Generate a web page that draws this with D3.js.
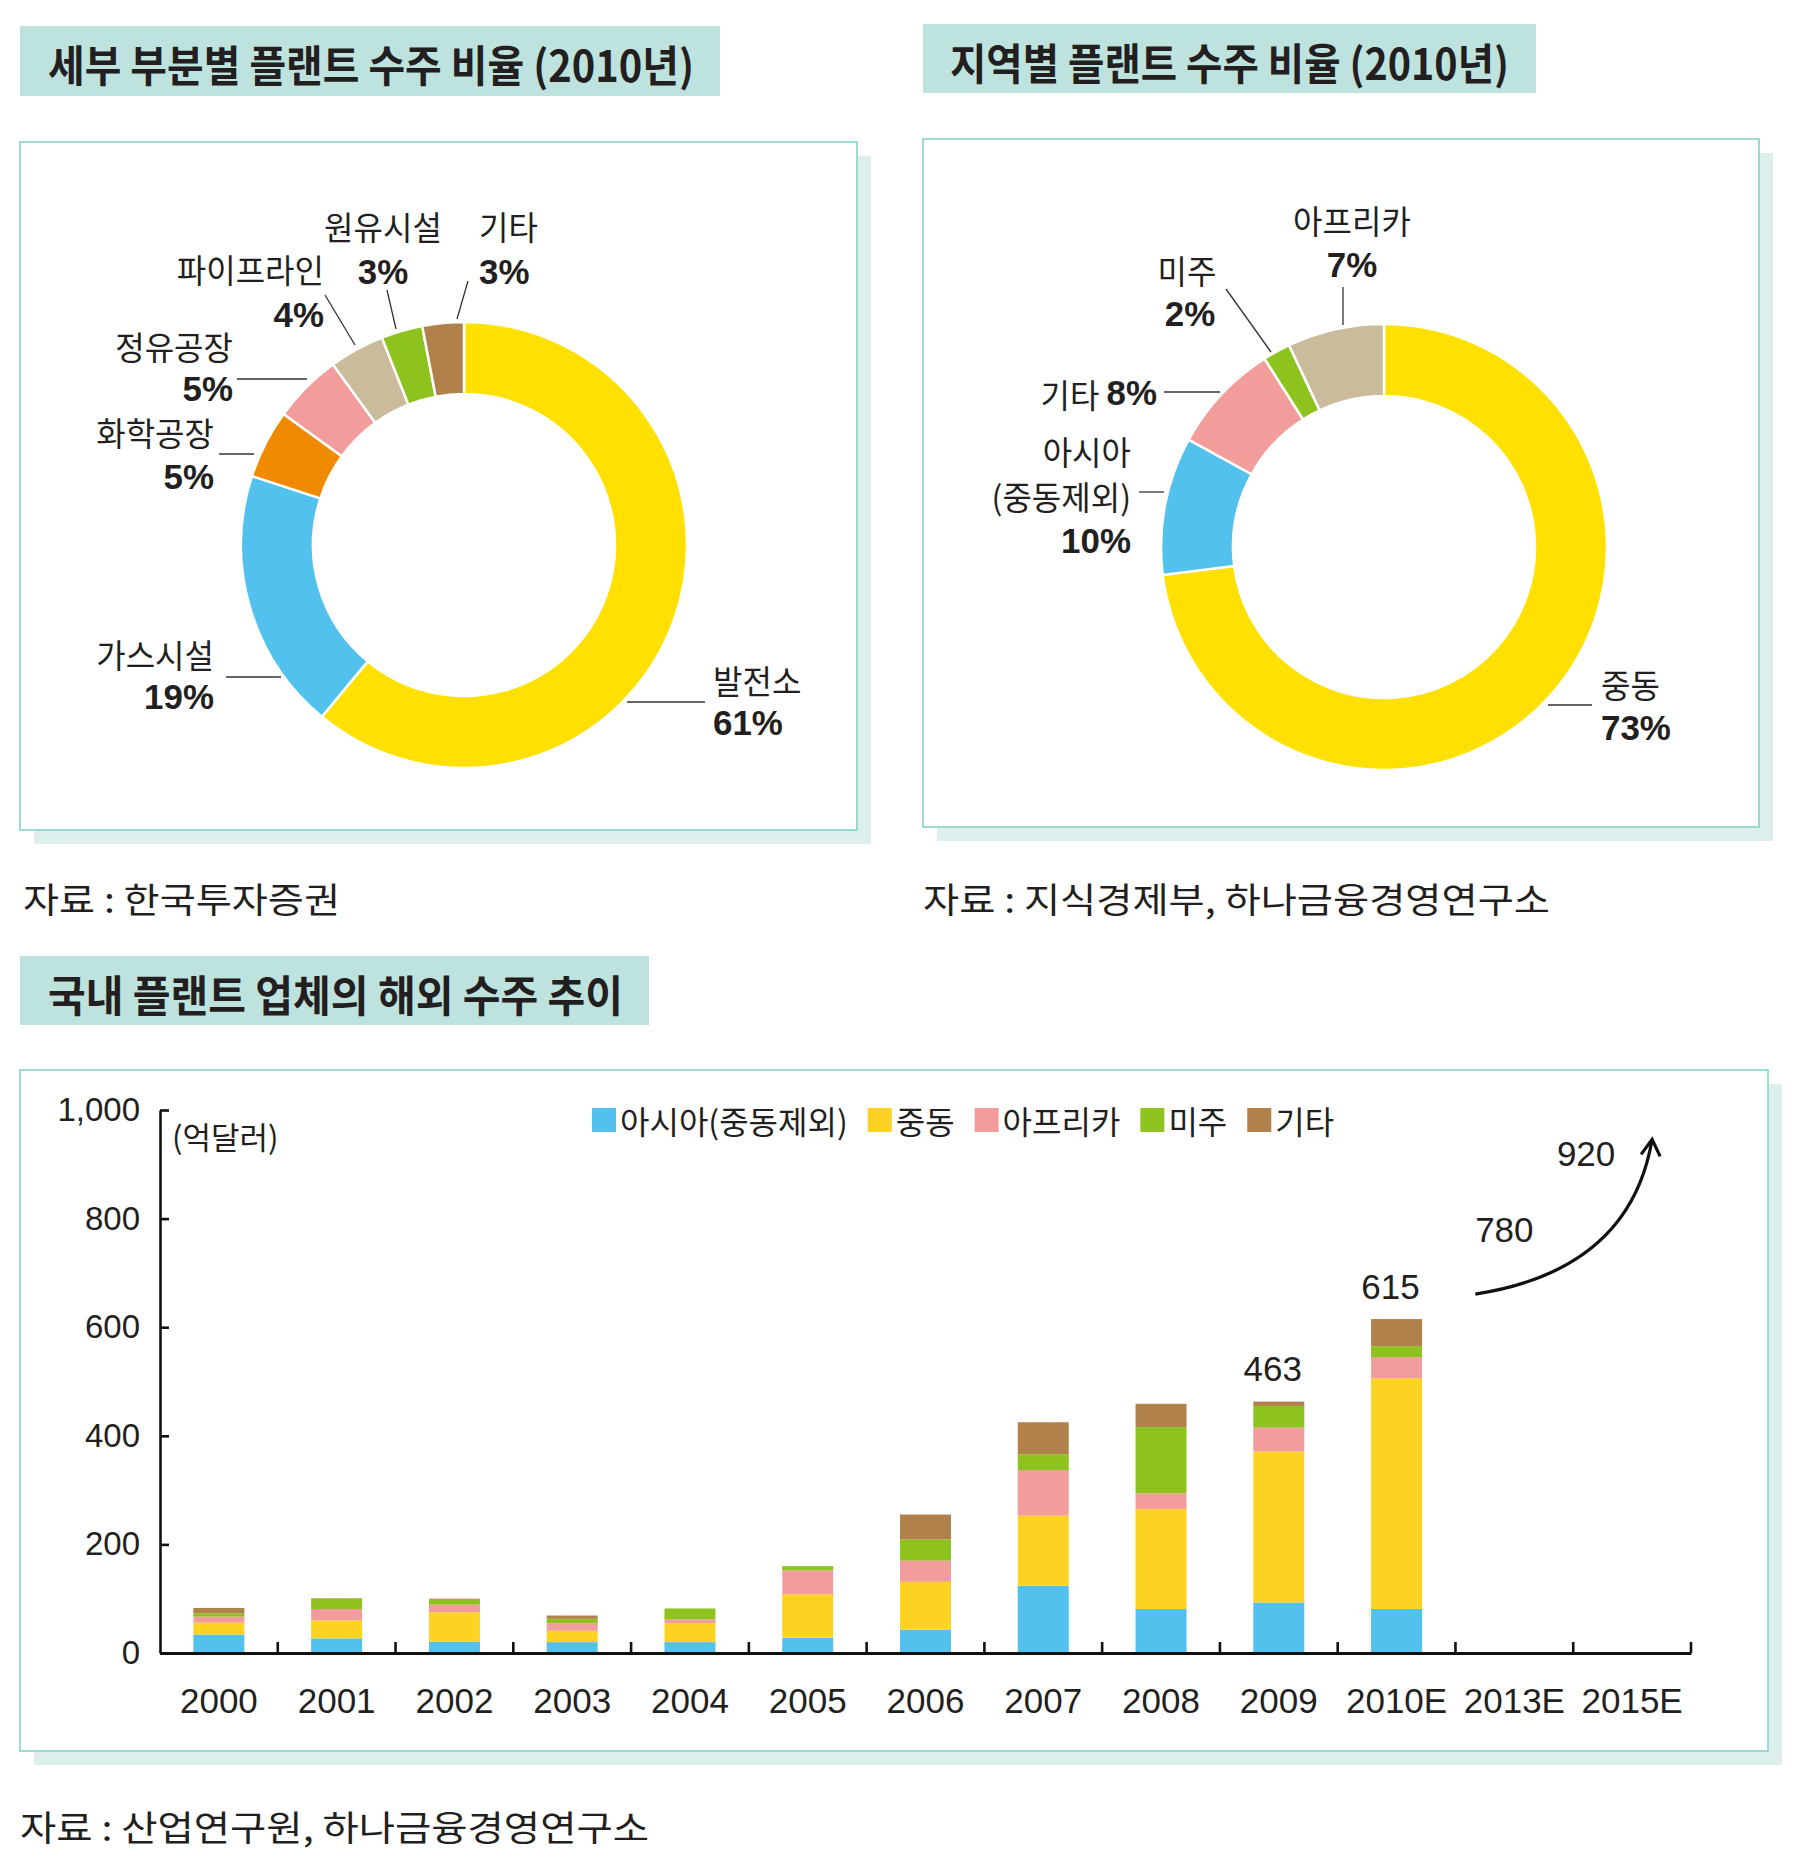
<!DOCTYPE html>
<html><head><meta charset="utf-8">
<script src="https://cdn.jsdelivr.net/npm/d3@7"></script>
<style>body{margin:0;background:#fff}svg{display:block}</style>
</head><body>
<svg id="c" width="1801" height="1867"></svg>
<script>
// ---------- DATA ----------
const sectorLabels = ["발전소","가스시설","화학공장","정유공장","파이프라인","원유시설","기타"];
const sectorShares = [61,19,5,5,4,3,3];
const regionLabels = ["중동","아시아(중동제외)","기타","미주","아프리카"];
const regionShares = [73,10,8,2,7];

const years = ["2000","2001","2002","2003","2004","2005","2006","2007","2008","2009","2010E","2013E","2015E"];
const seriesNames = ["아시아(중동제외)","중동","아프리카","미주","기타"];
const asia       = [34,27,21,20,20,28,43,124,81,93,81,null,null];
const middleEast = [22,33,54,21,35,80,88,129,184,278,425,null,null];
const africa     = [11,21,14,14,7,44,39,84,29,44,39,null,null];
const americas   = [6,19,9,8,20,8,39,29,122,40,20,null,null];
const others     = [10,1,2,6,0,0,46,59,43,8,50,null,null];
const totalLabelYears = ["2009","2010E"];
const forecastYears = ["2013E","2015E"];
const forecastValues = [780,920];
const yTicks = [0,200,400,600,800,1000];

const titles = ["세부 부분별 플랜트 수주 비율 (2010년)","지역별 플랜트 수주 비율 (2010년)","국내 플랜트 업체의 해외 수주 추이"];
const sources = ["자료 : 한국투자증권","자료 : 지식경제부, 하나금융경영연구소","자료 : 산업연구원, 하나금융경영연구소"];

// ---------- STYLE ----------
const KR = "'Noto Sans CJK KR','Noto Sans',sans-serif";
const NUM = "'Liberation Sans',Arial,sans-serif";
const INK = "#231F20";
const sectorColors = ["#FFE000","#52C1EE","#F08A00","#F29C9B","#C9BB9B","#8DC21F","#B1814B"];
const regionColors = ["#FFE000","#52C1EE","#F29C9B","#8DC21F","#C9BB9B"];
const barColors = ["#52C1EE","#FCD223","#F29C9B","#8DC21F","#B1814B"];

const svg = d3.select("#c");

// panels, shadows, title boxes
const panels = [[20,142,837,688],[923,139,836,688],[20,1070,1748,681]];
panels.forEach(p=>{
  svg.append("rect").attr("x",p[0]+14).attr("y",p[1]+14).attr("width",p[2]).attr("height",p[3]).attr("fill","#DDEFED");
  svg.append("rect").attr("x",p[0]).attr("y",p[1]).attr("width",p[2]).attr("height",p[3]).attr("fill","#fff").attr("stroke","#86D2C8").attr("stroke-width",1.6);
});
const titleBoxes = [[20,26,700,70,48,646],[923,24,613,69,950,559],[20,956,629,69,48,575]];
titleBoxes.forEach((b,i)=>{
  svg.append("rect").attr("x",b[0]).attr("y",b[1]).attr("width",b[2]).attr("height",b[3]).attr("fill","#BEE3DF");
  svg.append("text").attr("x",b[4]).attr("y",b[1]+b[3]/2+2).attr("dominant-baseline","central")
    .attr("font-family",KR).attr("font-weight",700).attr("font-size",43).attr("fill",INK)
    .attr("textLength",b[5]).attr("lengthAdjust","spacingAndGlyphs").text(titles[i]);
});
const sourcePos = [[23,897,317],[923,897,627],[20,1825,629]];
sourcePos.forEach((s,i)=>{
  svg.append("text").attr("x",s[0]).attr("y",s[1]).attr("dominant-baseline","central")
    .attr("font-family",KR).attr("font-size",35).attr("fill",INK)
    .attr("textLength",s[2]).attr("lengthAdjust","spacingAndGlyphs").text(sources[i]);
});

// helper for condensed text
function ctext(parent,x,y,str,opt){
  const g = parent.append("g").attr("transform",`translate(${x},${y}) scale(${opt.sx||1},1)`);
  return g.append("text").attr("x",0).attr("y",0).attr("dominant-baseline","central")
    .attr("text-anchor",opt.anchor||"start").attr("font-family",opt.family||KR)
    .attr("font-weight",opt.bold?700:400).attr("font-size",opt.size).attr("fill",INK).text(str);
}
function line(parent,x1,y1,x2,y2){
  parent.append("line").attr("x1",x1).attr("y1",y1).attr("x2",x2).attr("y2",y2)
    .attr("stroke","#333").attr("stroke-width",1.3);
}

// ---------- DONUTS ----------
function donut(cx,cy,values,colors){
  const pie = d3.pie().sort(null).value(d=>d);
  const arc = d3.arc().innerRadius(151).outerRadius(223);
  svg.append("g").attr("transform",`translate(${cx},${cy})`)
    .selectAll("path").data(pie(values)).join("path")
    .attr("d",arc).attr("fill",(d,i)=>colors[i]).attr("stroke","#fff").attr("stroke-width",2.5);
}
donut(464,545,sectorShares,sectorColors);
donut(1384,547,regionShares,regionColors);

const LBL = {size:33,sx:0.97};
const PCT = {size:36,sx:0.97,bold:true,family:NUM};
// donut 1 label layout: [anchor, x, yName, yPct, leader]
const d1Layout = [
  ["start",713,679,723,[627,702,705,702]],
  ["end",214,653,697,[226,677,281,677]],
  ["end",214,431,477,[219,454,254,454]],
  ["end",233,345,389,[237,379,307,379]],
  ["end",324,268,315,[325,295,355,345]],
  ["middle",383,225,272,[387,290,396,329]],
  ["start",479,225,272,[468,281,457,319]]
];
const dg1 = svg.append("g");
d1Layout.forEach((L,i)=>{
  ctext(dg1,L[1],L[2],sectorLabels[i],Object.assign({anchor:L[0]},LBL));
  ctext(dg1,L[1],L[3],sectorShares[i]+"%",Object.assign({anchor:L[0]},PCT));
  line(dg1,...L[4]);
});
// donut 2 labels
const dg2 = svg.append("g");
ctext(dg2,1601,683,regionLabels[0],Object.assign({anchor:"start"},LBL));
ctext(dg2,1601,728,regionShares[0]+"%",Object.assign({anchor:"start"},PCT));
line(dg2,1548,705,1592,705);
const asiaParts = regionLabels[1].replace("(", "|(").split("|");
ctext(dg2,1131,450,asiaParts[0],Object.assign({anchor:"end"},LBL));
ctext(dg2,1131,495,asiaParts[1],Object.assign({anchor:"end"},LBL));
ctext(dg2,1131,541,regionShares[1]+"%",Object.assign({anchor:"end"},PCT));
line(dg2,1139,492,1164,492);
{
  const t = ctext(dg2,1157,393,"",Object.assign({anchor:"end"},LBL));
  t.append("tspan").text(regionLabels[2]+" ");
  t.append("tspan").attr("font-family",NUM).attr("font-weight",700).attr("font-size",36).text(regionShares[2]+"%");
}
line(dg2,1164,392,1220,392);
ctext(dg2,1187,269,regionLabels[3],Object.assign({anchor:"middle"},LBL));
ctext(dg2,1190,314,regionShares[3]+"%",Object.assign({anchor:"middle"},PCT));
line(dg2,1226,289,1271,352);
ctext(dg2,1352,219,regionLabels[4],Object.assign({anchor:"middle"},LBL));
ctext(dg2,1352,265,regionShares[4]+"%",Object.assign({anchor:"middle"},PCT));
line(dg2,1343,287,1343,325);

// ---------- BAR CHART ----------
const x0 = 160, x1 = 1691, yBase = 1653, yTop = 1110;
const x = d3.scaleBand().domain(years).range([x0,x1]).paddingInner(0.567).paddingOuter(0.2835);
const y = d3.scaleLinear().domain([0,1000]).range([yBase,yTop]);
const table = years.map((yr,i)=>({year:yr,s0:asia[i]||0,s1:middleEast[i]||0,s2:africa[i]||0,s3:americas[i]||0,s4:others[i]||0}));
const keys = ["s0","s1","s2","s3","s4"];
const stacked = d3.stack().keys(keys)(table);
const bars = svg.append("g");
stacked.forEach((layer,k)=>{
  bars.append("g").attr("fill",barColors[k]).selectAll("rect").data(layer).join("rect")
    .attr("x",d=>x(d.data.year)).attr("width",x.bandwidth())
    .attr("y",d=>y(d[1])).attr("height",d=>Math.max(0,y(d[0])-y(d[1])));
});

// y axis
const yAxis = svg.append("g").attr("transform",`translate(${x0},0)`)
  .call(d3.axisLeft(y).tickValues(yTicks).tickFormat(d3.format(",")).tickSize(-9).tickSizeOuter(0).tickPadding(20));
yAxis.select(".domain").attr("stroke","#111").attr("stroke-width",2.6);
yAxis.selectAll(".tick line").attr("stroke","#111").attr("stroke-width",2.6);
yAxis.selectAll(".tick text").attr("font-family",NUM).attr("font-size",33).attr("fill",INK);

// x axis
const xAxis = svg.append("g").attr("transform",`translate(0,${yBase})`)
  .call(d3.axisBottom(x).tickSize(0).tickPadding(35).tickSizeOuter(0));
xAxis.select(".domain").attr("stroke","#111").attr("stroke-width",2.8);
xAxis.selectAll(".tick text").attr("font-family",NUM).attr("font-size",35).attr("fill",INK);
years.forEach(yr=>{
  const bx = x(yr)+x.bandwidth()/2+x.step()/2;
  svg.append("line").attr("x1",bx).attr("x2",bx).attr("y1",yBase).attr("y2",yBase-11)
    .attr("stroke","#111").attr("stroke-width",2.6);
});

// unit label
svg.append("text").attr("x",172).attr("y",1135).attr("dominant-baseline","central")
  .attr("font-family",KR).attr("font-size",31).attr("fill",INK).text("(억달러)");

// legend
{
  let lx = 592; const ly = 1120;
  seriesNames.forEach((n,i)=>{
    svg.append("rect").attr("x",lx).attr("y",ly-12).attr("width",24).attr("height",24).attr("fill",barColors[i]);
    const t = svg.append("text").attr("x",lx+28).attr("y",ly).attr("dominant-baseline","central")
      .attr("font-family",KR).attr("font-size",32).attr("fill",INK).text(n);
    lx += 28 + t.node().getComputedTextLength() + 20;
  });
}

// total labels
totalLabelYears.forEach(yr=>{
  const i = years.indexOf(yr);
  const tot = asia[i]+middleEast[i]+africa[i]+americas[i]+others[i];
  svg.append("text").attr("x",x(yr)+x.bandwidth()/2-6).attr("y",y(tot)-33).attr("dominant-baseline","central")
    .attr("text-anchor","middle").attr("font-family",NUM).attr("font-size",35).attr("fill",INK).text(tot);
});
// forecast labels
const fcOffsets = [-10,-46];
forecastYears.forEach((yr,i)=>{
  svg.append("text").attr("x",x(yr)+x.bandwidth()/2+fcOffsets[i]).attr("y",y(forecastValues[i])).attr("dominant-baseline","central")
    .attr("text-anchor","middle").attr("font-family",NUM).attr("font-size",35).attr("fill",INK).text(forecastValues[i]);
});
// arrow
{
  const c13 = x("2013E")+x.bandwidth()/2, c15 = x("2015E")+x.bandwidth()/2;
  const sx = c13-39, sy = y(661), ex = c15+20, ey = y(946);
  const cx = ex-22, cy = sy-24;
  svg.append("path").attr("d",`M${sx},${sy} Q${cx},${cy} ${ex},${ey}`)
    .attr("fill","none").attr("stroke","#111").attr("stroke-width",3.2);
  svg.append("path").attr("d",`M${ex-11},${ey+15} L${ex},${ey} L${ex+8},${ey+17}`)
    .attr("fill","none").attr("stroke","#111").attr("stroke-width",3.2).attr("stroke-linejoin","miter");
}
</script>
</body></html>
